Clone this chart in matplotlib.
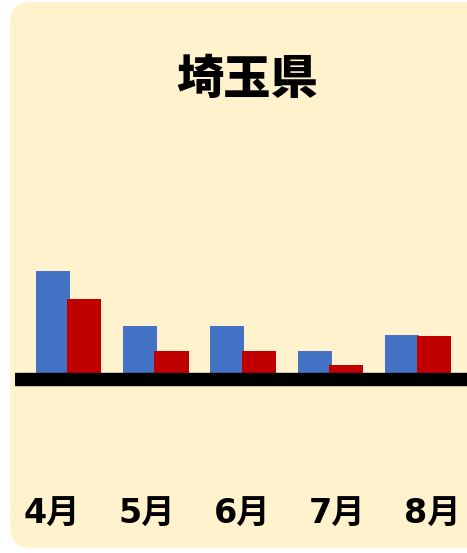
import matplotlib
matplotlib.use("Agg")
import matplotlib.pyplot as plt
from matplotlib.patches import FancyBboxPatch
import numpy as np

plt.rcParams['font.family'] = ['Noto Sans CJK JP', 'DejaVu Sans']

# data (relative bar heights)
months = ["4月", "5月", "6月", "7月", "8月"]
blue_vals = [10.2, 4.7, 4.7, 2.2, 3.8]
red_vals = [7.4, 2.2, 2.2, 0.8, 3.7]
title = "埼玉県"

W, H = 467, 553
fig = plt.figure(figsize=(W / 100, H / 100), dpi=100)
fig.patch.set_facecolor("white")

# rounded card behind everything
card = FancyBboxPatch((10 / W, 5 / H), (W + 30) / W, (H - 7) / H,
                      boxstyle="round,pad=0,rounding_size=0.045",
                      transform=fig.transFigure, facecolor="#FFF2CC",
                      edgecolor="none", zorder=-1, mutation_aspect=W / H)
fig.patches.append(card)

# axes: x 15..467 px, y 130..470 px (from top)
ax = fig.add_axes([15 / W, (H - 470) / H, (W - 15) / W, 340 / H])
ax.set_facecolor("none")

x = np.arange(len(months))
w = 0.39
ax.bar(x - 0.18, blue_vals, width=w, color="#4472C4", zorder=2)
ax.bar(x + 0.18, red_vals, width=w, color="#C00000", zorder=3)

# thick baseline
ax.axhspan(-1.2, 0, color="black", zorder=4)

ax.set_ylim(-9.7, 24.3)
ax.set_xlim(-0.61, 4.56)
ax.axis("off")

fig.text(247 / W, 1 - 80 / H, title, ha="center", va="center",
         fontsize=34, fontweight="black", color="black")

lab_x = np.linspace(52, 432, len(months))
for lx, m in zip(lab_x, months):
    fig.text(lx / W, 1 - 514 / H, m, ha="center", va="center",
             fontsize=24, fontweight="bold", color="black",
             family=['DejaVu Sans', 'Noto Sans CJK JP'])

fig.savefig("out.png", dpi=100, facecolor=fig.get_facecolor())
